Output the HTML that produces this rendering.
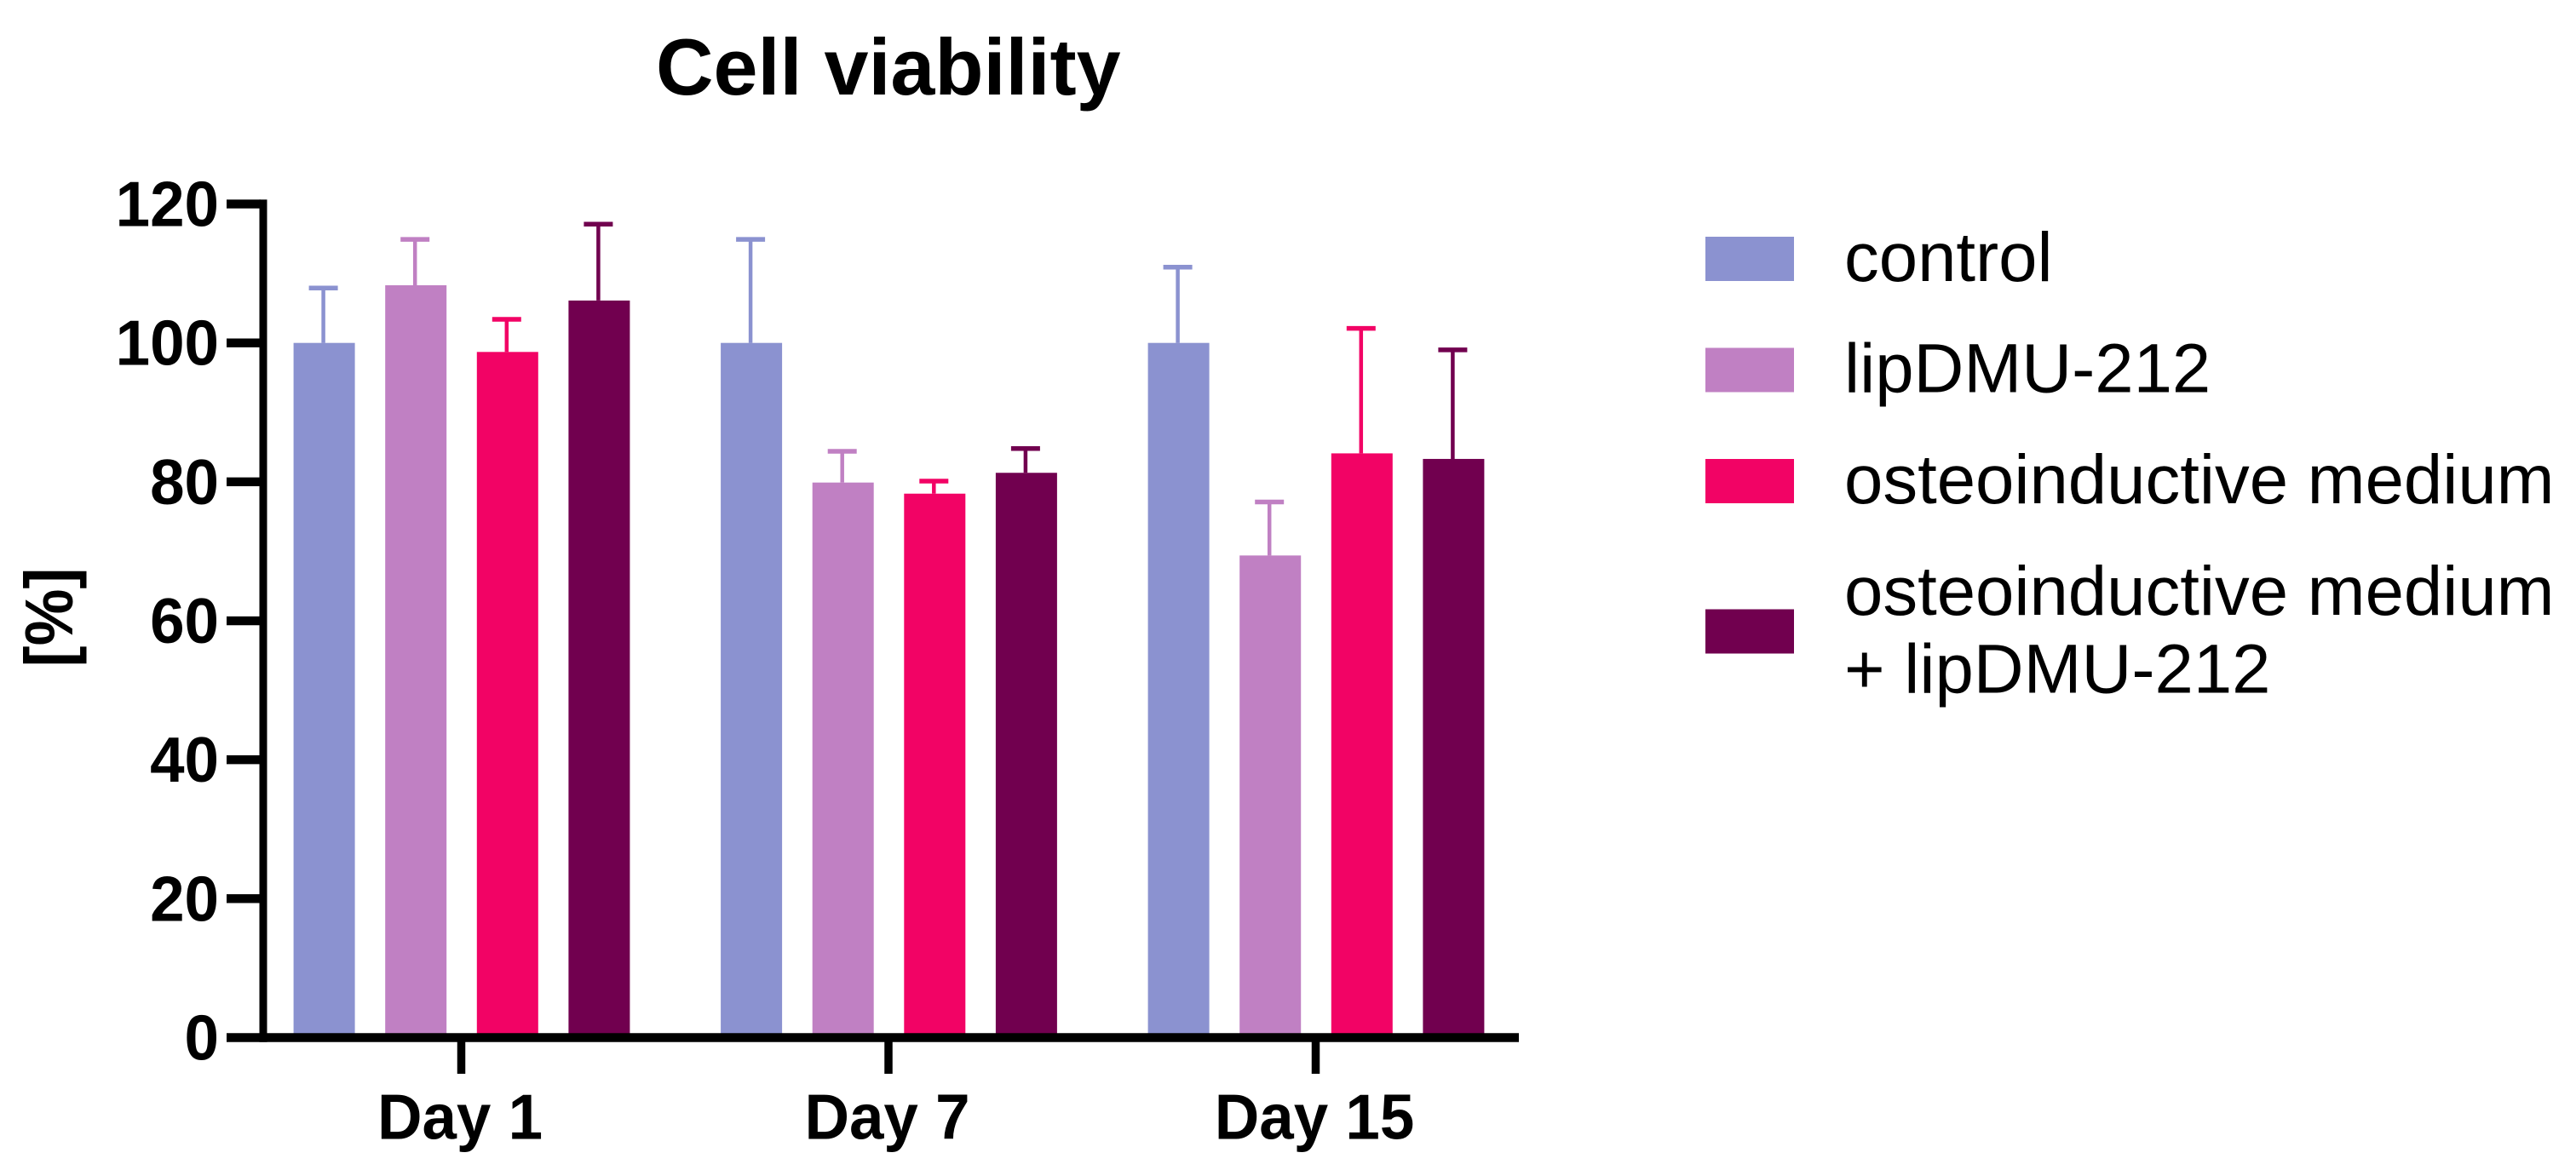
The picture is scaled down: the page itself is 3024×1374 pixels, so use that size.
<!DOCTYPE html>
<html lang="en">
<head>
<meta charset="utf-8">
<title>Cell viability</title>
<style>
  html, body { margin: 0; padding: 0; background: #fff; }
  svg { display: block; }
  text { font-family: "Liberation Sans", Arial, sans-serif; fill: #000; }
  .bold { font-weight: 700; }
</style>
</head>
<body>
<svg id="chart" xmlns="http://www.w3.org/2000/svg" width="3024" height="1374" viewBox="0 0 3024 1374">
  <rect x="0" y="0" width="3024" height="1374" fill="#ffffff"/>
  <text class="bold" x="770" y="111" font-size="93.500">Cell viability</text>
  <text class="bold" font-size="80" text-anchor="middle" transform="translate(85 725) rotate(-90) scale(0.94 1)">[%]</text>
  <g id="bars"></g>
  <g id="errors"></g>
  <g id="axes"></g>

  <g font-size="81.500">
    <g>
      <rect x="2002" y="278" width="104" height="52" fill="#8B92D0"/>
      <text x="2165" y="330">control</text>
    </g>
    <g>
      <rect x="2002" y="408.500" width="104" height="52" fill="#C080C3"/>
      <text x="2165" y="460.500">lipDMU-212</text>
    </g>
    <g>
      <rect x="2002" y="539" width="104" height="52" fill="#F20365"/>
      <text x="2165" y="591">osteoinductive medium</text>
    </g>
    <g>
      <rect x="2002" y="715.500" width="104" height="52" fill="#71004F"/>
      <text x="2165" y="722">osteoinductive medium</text>
      <text x="2165" y="813.500">+ lipDMU-212</text>
    </g>
  </g>
</svg>
<script>
const categories = ["Day 1", "Day 7", "Day 15"];
const yTicks = [0, 20, 40, 60, 80, 100, 120];
const seriesNames = ["control", "lipdmu", "osteoinductive", "osteoinductive-lipdmu"];
const seriesColors = ["#8B92D0", "#C080C3", "#F20365", "#71004F"];
const controlValues = [100, 100, 100];
const lipdmuValues = [108.3, 79.9, 69.4];
const osteoValues = [98.7, 78.3, 84.1];
const comboValues = [106.1, 81.3, 83.3];
const controlUpper = [107.9, 114.9, 110.9];
const lipdmuUpper = [114.9, 84.4, 77.1];
const osteoUpper = [103.4, 80.1, 102.1];
const comboUpper = [117.1, 84.8, 99.0];

const seriesValues = [controlValues, lipdmuValues, osteoValues, comboValues];
const seriesUpper = [controlUpper, lipdmuUpper, osteoUpper, comboUpper];

const NS = "http://www.w3.org/2000/svg";
function yScale(v) { return 1218.5 - v * 8.158; }
function xBand(g) { return 541 + 501.5 * g; }
function xBar(g, s) { return xBand(g) + 1 + (s - 1.5) * 107.6; }
function make(tag, parent, attrs) {
  const el = document.createElementNS(NS, tag);
  for (const k in attrs) el.setAttribute(k, attrs[k]);
  parent.appendChild(el);
  return el;
}

const barsG = document.getElementById("bars");
const errorsG = document.getElementById("errors");
const axesG = document.getElementById("axes");

seriesValues.forEach(function (vals, s) {
  vals.forEach(function (v, g) {
    const cx = xBar(g, s);
    const top = yScale(v);
    const bar = make("rect", barsG, { x: cx - 36, y: top, width: 72, height: yScale(0) - top, fill: seriesColors[s] });
    
    

    const ex = cx - 1;
    const eTop = yScale(seriesUpper[s][g]);
    const stem = make("line", errorsG, { x1: ex, x2: ex, y1: top, y2: eTop, stroke: seriesColors[s], "stroke-width": 4.5 });
    
    
    const cap = make("line", errorsG, { x1: ex - 17, x2: ex + 17, y1: eTop, y2: eTop, stroke: seriesColors[s], "stroke-width": 5.5 });
    
    
  });
});

const yAxisLine = make("line", axesG, { x1: 309, x2: 309, y1: yScale(120) - 5.2, y2: yScale(0) + 5.2, stroke: "#000", "stroke-width": 9 });


const xAxisLine = make("line", axesG, { x1: 266, x2: 1783, y1: yScale(0), y2: yScale(0), stroke: "#000", "stroke-width": 10.4 });



yTicks.forEach(function (t) {
  const y = yScale(t);
  if (t !== 0) {
    const tick = make("line", axesG, { x1: 266, x2: 306, y1: y, y2: y, stroke: "#000", "stroke-width": 10.4 });
    
    
  }
  const label = make("text", axesG, { transform: "translate(257 " + (y + 26) + ") scale(0.97 1)", "text-anchor": "end", "font-size": 75, class: "bold" });
  label.textContent = String(t);
  
  
});

categories.forEach(function (c, g) {
  const x = xBand(g);
  const tick = make("line", axesG, { x1: x + 0.5, x2: x + 0.5, y1: yScale(0), y2: 1261, stroke: "#000", "stroke-width": 9.5 });
  
  
  const label = make("text", axesG, { transform: "translate(" + (x - 1) + " 1337.5) scale(0.97 1)", "text-anchor": "middle", "font-size": 75, class: "bold" });
  label.textContent = c;
  
  
});
</script>
</body>
</html>
